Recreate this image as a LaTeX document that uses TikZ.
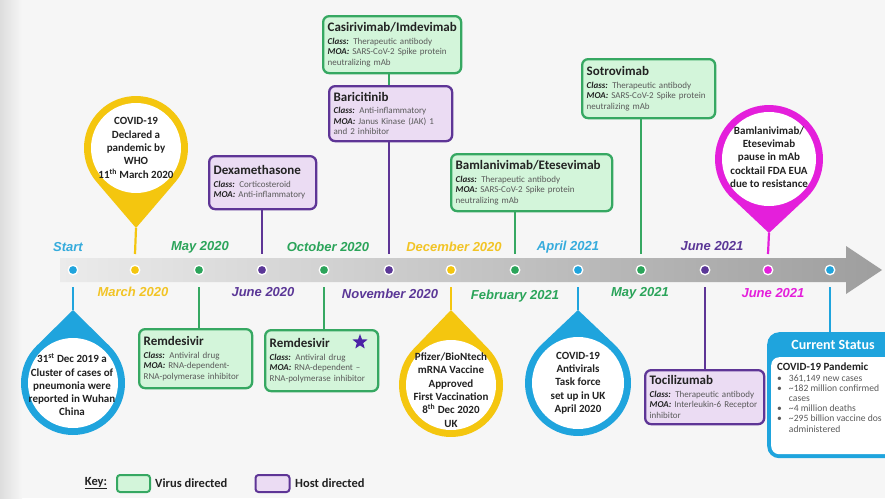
\documentclass[tikz,border=0pt]{standalone}
\usepackage{fontspec}
\setmainfont{Carlito}
\newfontfamily\datefont{Liberation Sans}
\usetikzlibrary{shapes.geometric}
\definecolor{vgreen}{HTML}{36A862}
\definecolor{vfill}{HTML}{D3F5DA}
\definecolor{hpurple}{HTML}{5E3596}
\definecolor{hfill}{HTML}{EBDCF3}
\definecolor{ccyan}{HTML}{1FA4DD}
\definecolor{cyellow}{HTML}{F4C60F}
\definecolor{cmag}{HTML}{E41FDB}
\definecolor{bodyg}{HTML}{5A5A5A}
\definecolor{titlec}{HTML}{222222}
\definecolor{lgreen}{HTML}{2BA45A}
\definecolor{lpurple}{HTML}{5B3797}
\definecolor{lyellow}{HTML}{F2C425}
\definecolor{lcyan}{HTML}{35ABDC}
\definecolor{starc}{HTML}{4B22A6}
\definecolor{bgc}{HTML}{F6F6F6}
\definecolor{bgedge}{HTML}{DDDDDD}
\definecolor{bandl}{HTML}{EBEBEB}
\definecolor{bandr}{HTML}{9E9E9E}
\newcommand{\ttl}[1]{{\fontsize{13}{14}\selectfont\bfseries\color{titlec}#1\par}\vspace{2pt}}
\newcommand{\lb}[1]{{\color{titlec}\bfseries\itshape #1}}
\begin{document}
\begin{tikzpicture}[x=1pt,y=-1pt,
  box/.style={line width=2.3pt, rounded corners=6pt, anchor=north west, inner xsep=4.5pt, inner ysep=2pt, align=left, font=\fontsize{9}{10.5}\selectfont, text=bodyg},
  vbox/.style={box, draw=vgreen, fill=vfill},
  hbox/.style={box, draw=hpurple, fill=hfill},
  dot/.style={circle, draw=white, line width=1.3pt, minimum size=9.5pt, inner sep=0pt},
  dlab/.style={font=\datefont\bfseries\itshape\fontsize{13}{15}\selectfont},
  pintext/.style={align=center, font=\bfseries\fontsize{11}{13.3}\selectfont, text=titlec},
  conn/.style={line width=2.2pt},
  keyfont/.style={font=\bfseries\fontsize{12.5}{14}\selectfont, text=titlec}
]
\useasboundingbox (0,0) rectangle (885,498);
\clip (0,0) rectangle (885,498);
% background
\fill[bgc] (0,0) rectangle (885,498);
\shade[left color=bgedge, right color=bgc] (0,0) rectangle (22,498);
% timeline band
\shade[left color=bandl, right color=bandr] (60,258) -- (846,258) -- (846,246) -- (882,270) -- (846,294) -- (846,282) -- (60,282) -- cycle;
% anchor coordinates above/below the band
\foreach \i/\x in {1/73,2/135,3/199,4/262,5/324,6/389,7/451,8/515,9/578,10/641,11/705,12/768,13/830}{
  \coordinate (t\i) at (\x,254);
  \coordinate (b\i) at (\x,287);
}
% dots
\node[dot, fill=ccyan] (d1) at (73,270) {};
\node[dot, fill=cyellow] (d2) at (135,270) {};
\node[dot, fill=lgreen] (d3) at (199,270) {};
\node[dot, fill=lpurple] (d4) at (262,270) {};
\node[dot, fill=lgreen] (d5) at (324,270) {};
\node[dot, fill=lpurple] (d6) at (389,270) {};
\node[dot, fill=cyellow] (d7) at (451,270) {};
\node[dot, fill=lgreen] (d8) at (515,270) {};
\node[dot, fill=ccyan] (d9) at (578,270) {};
\node[dot, fill=lgreen] (d10) at (641,270) {};
\node[dot, fill=lpurple] (d11) at (705,270) {};
\node[dot, fill=cmag] (d12) at (768,270) {};
\node[dot, fill=ccyan] (d13) at (830,270) {};
% date labels
\node[dlab, text=lcyan] (l1) at (68,247) {Start};
\node[dlab, text=lyellow] (l2) at (133,292) {March 2020};
\node[dlab, text=lgreen] (l3) at (200,247) {May 2020};
\node[dlab, text=lpurple] (l4) at (263,292) {June 2020};
\node[dlab, text=lgreen] (l5) at (328,247) {October 2020};
\node[dlab, text=lpurple] (l6) at (390,294) {November 2020};
\node[dlab, text=lyellow] (l7) at (454,247) {December 2020};
\node[dlab, text=lgreen] (l8) at (515,296) {February 2021};
\node[dlab, text=lcyan] (l9) at (568,247) {April 2021};
\node[dlab, text=lgreen] (l10) at (640,293) {May 2021};
\node[dlab, text=lpurple] (l11) at (712,246) {June 2021};
\node[dlab, text=cmag] (l12) at (773,293) {June 2021};
% boxes above
\node[vbox, text width=129pt, minimum height=57pt] (casi) at (322,15)
  {\ttl{Casirivimab/Imdevimab}\lb{Class:} Therapeutic antibody\\\lb{MOA:} SARS-CoV-2 Spike protein\\neutralizing mAb};
\node[hbox, text width=114pt, minimum height=55pt] (bari) at (328,85)
  {\ttl{Baricitinib}\lb{Class:} Anti-inflammatory\\\lb{MOA:} Janus Kinase (JAK) 1\\and 2 inhibitor};
\node[hbox, text width=98pt, minimum height=53pt] (dexa) at (208,155)
  {\ttl{Dexamethasone}\lb{Class:} Corticosteroid\\\lb{MOA:} Anti-inflammatory};
\node[vbox, text width=152pt, minimum height=57pt] (bam) at (450,153)
  {\ttl{Bamlanivimab/Etesevimab}\lb{Class:} Therapeutic antibody\\\lb{MOA:} SARS-CoV-2 Spike protein\\neutralizing mAb};
\node[vbox, text width=124pt, minimum height=59pt] (sotro) at (581,58)
  {\ttl{Sotrovimab}\lb{Class:} Therapeutic antibody\\\lb{MOA:} SARS-CoV-2 Spike protein\\neutralizing mAb};
% boxes below
\node[vbox, text width=104pt, minimum height=59pt] (rem1) at (138,328)
  {\ttl{Remdesivir}\lb{Class:} Antiviral drug\\\lb{MOA:} RNA-dependent-\\RNA-polymerase inhibitor};
\node[vbox, text width=104pt, minimum height=61pt] (rem2) at (264,329)
  {\ttl{Remdesivir}\lb{Class:} Antiviral drug\\\lb{MOA:} RNA-dependent --\\RNA-polymerase inhibitor};
\node[star, star points=5, star point ratio=2.4, fill=starc, minimum size=16pt, inner sep=0pt] (star) at (360,342) {};
\node[hbox, text width=110pt, minimum height=54pt] (toci) at (644,369)
  {\ttl{Tocilizumab}\lb{Class:} Therapeutic antibody\\\lb{MOA:} Interleukin-6 Receptor\\inhibitor};
% connectors of boxes
\draw[conn, vgreen] (casi.south -| t6) -- (bari.north -| t6);
\draw[conn, hpurple] (bari.south -| t6) -- (t6);
\draw[conn, hpurple] (dexa.south -| t4) -- (t4);
\draw[conn, vgreen] (bam.south -| t8) -- (t8);
\draw[conn, vgreen] (sotro.south -| t10) -- (t10);
\draw[conn, vgreen] (b3) -- (rem1.north -| b3);
\draw[conn, vgreen] (b5) -- (rem2.north -| b5);
\draw[conn, hpurple] (b11) -- (toci.north -| b11);
% pin: WHO pandemic (yellow, top)
\coordinate (pAc) at (136,148);
\coordinate (pAt) at (136,228);
\fill[cyellow] (pAt) -- ([shift={(-40.54:52pt)}]pAc) arc[start angle=-40.54, end angle=220.54, radius=52pt] -- cycle;
\fill[white] (pAc) circle[radius=45pt];
\node[pintext] (pinA) at (136,148) {COVID-19\\Declared a\\pandemic by\\WHO\\11\textsuperscript{th} March 2020};
\draw[conn, cyellow] (pAt) -- (t2);
% pin: mAb pause (magenta, top)
\coordinate (pMc) at (769,159);
\coordinate (pMt) at (769,233);
\fill[cmag] (pMt) -- ([shift={(-46.86:54pt)}]pMc) arc[start angle=-46.86, end angle=223.14, radius=54pt] -- cycle;
\fill[white] (pMc) circle[radius=47pt];
\node[pintext] (pinM) at (769,157) {Bamlanivimab/\\Etesevimab\\pause in mAb\\cocktail FDA EUA\\due to resistance};
\draw[conn, cmag] (pMt) -- (t12);
% pin: Wuhan (cyan, bottom)
\coordinate (pSc) at (73,383);
\coordinate (pSt) at (73,310);
\fill[ccyan] (pSt) -- ([shift={(134.58:52pt)}]pSc) arc[start angle=134.58, end angle=405.42, radius=52pt] -- cycle;
\fill[white] (pSc) circle[radius=45pt];
\node[pintext] (pinS) at (72,385) {31\textsuperscript{st} Dec 2019 a\\Cluster of cases of\\pneumonia were\\reported in Wuhan\\China};
\draw[conn, ccyan] (b1) -- (pSt);
% pin: Pfizer (yellow, bottom)
\coordinate (pPc) at (451,385);
\coordinate (pPt) at (451,310);
\fill[cyellow] (pPt) -- ([shift={(136.11:52pt)}]pPc) arc[start angle=136.11, end angle=403.89, radius=52pt] -- cycle;
\fill[white] (pPc) circle[radius=45pt];
\node[pintext] (pinP) at (451,390) {Pfizer/BioNtech\\mRNA Vaccine\\Approved\\First Vaccination\\8\textsuperscript{th} Dec 2020\\UK};
\draw[conn, cyellow] (b7) -- (pPt);
% pin: Antivirals (cyan, bottom)
\coordinate (pVc) at (578,383);
\coordinate (pVt) at (578,310);
\fill[ccyan] (pVt) -- ([shift={(133.45:53pt)}]pVc) arc[start angle=133.45, end angle=406.55, radius=53pt] -- cycle;
\fill[white] (pVc) circle[radius=46pt];
\node[pintext] (pinV) at (578,383) {COVID-19\\Antivirals\\Task force\\set up in UK\\April 2020};
\draw[conn, ccyan] (b9) -- (pVt);
% current status
\node[fill=ccyan, rounded corners=12pt, anchor=north west, minimum width=143pt, minimum height=126pt, inner sep=0pt] (cs) at (767,332) {};
\node[fill=white, rounded corners=8pt, anchor=north west, minimum width=140pt, minimum height=97pt, inner sep=0pt] (csin) at (771,357) {};
\node[text=white, font=\bfseries\fontsize{14}{16}\selectfont] (cstitle) at (833,345) {Current Status};
\node[anchor=north west, align=left, inner sep=0pt, font=\fontsize{9.6}{10.2}\selectfont, text=bodyg] (csbody) at (777,363)
  {{\color{titlec}\bfseries\fontsize{11}{12}\selectfont COVID-19 Pandemic}\\
   \textbullet\hspace{7pt}361,149 new cases\\
   \textbullet\hspace{7pt}\textasciitilde182 million confirmed\\
   \phantom{\textbullet}\hspace{7pt}cases\\
   \textbullet\hspace{7pt}\textasciitilde4 million deaths\\
   \textbullet\hspace{7pt}\textasciitilde295 billion vaccine dos\\
   \phantom{\textbullet}\hspace{7pt}administered};
\draw[conn, ccyan] (b13) -- (cs.north -| b13);
% key
\node[keyfont] (key) at (96,483) {\underline{Key:}};
\node[draw=vgreen, fill=vfill, line width=2pt, rounded corners=3pt, minimum width=33pt, minimum height=17pt, inner sep=0pt] (kv) at (133.5,483.5) {};
\node[keyfont, anchor=west, inner sep=0pt] (kvt) at (155,483) {Virus directed};
\node[draw=hpurple, fill=hfill, line width=2pt, rounded corners=3pt, minimum width=34pt, minimum height=17pt, inner sep=0pt] (kh) at (272.5,483.5) {};
\node[keyfont, anchor=west, inner sep=0pt] (kht) at (295,483) {Host directed};
\end{tikzpicture}
\end{document}
